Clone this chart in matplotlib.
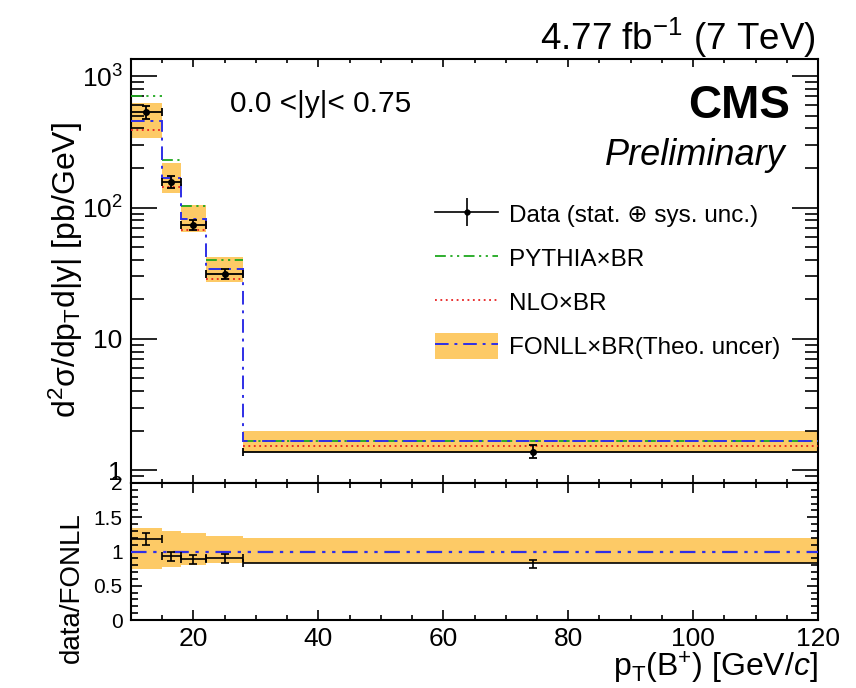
import numpy as np
import matplotlib
matplotlib.use('Agg')
import matplotlib.pyplot as plt
from matplotlib.patches import Patch
from matplotlib.lines import Line2D
from matplotlib.ticker import FixedLocator, MultipleLocator, LogLocator, NullFormatter, FixedFormatter

plt.rcParams['font.family'] = ['Liberation Sans', 'DejaVu Sans']
plt.rcParams['mathtext.fontset'] = 'custom'
plt.rcParams['mathtext.rm'] = 'Liberation Sans'
plt.rcParams['mathtext.it'] = 'Liberation Sans:italic'
plt.rcParams['mathtext.bf'] = 'Liberation Sans:bold'
plt.rcParams['mathtext.sf'] = 'Liberation Sans'

# ---------------- data ----------------
bin_edges = [10, 15, 18, 22, 28, 120]
data_pt = [12.4, 16.4, 20.0, 25.0, 74.3]
data_y = [535, 157, 73, 31.0, 1.38]
data_err_up = [59, 17, 7.5, 3.2, 0.17]
data_err_dn = [67, 16, 5.5, 2.6, 0.15]

pythia_y = [708, 229, 102, 39.7, 1.68]
nlo_y = [388, 144, 68, 28.8, 1.52]
fonll_y = [455, 167, 82, 34.3, 1.67]
fonll_hi = [620, 220, 105, 42.1, 1.99]
fonll_lo = [341, 130, 65, 27.2, 1.38]

ratio_y = [1.18, 0.93, 0.89, 0.90, 0.83]
ratio_err_up = [0.09, 0.06, 0.06, 0.07, 0.05]
ratio_err_dn = [0.09, 0.065, 0.07, 0.07, 0.07]
ratio_band_hi = [1.35, 1.30, 1.27, 1.23, 1.19]
ratio_band_lo = [0.75, 0.78, 0.80, 0.83, 0.83]

top_yticks = [1, 10, 100, 1000]
top_yticklabels = ['1', '10', '$10^{2}$', '$10^{3}$']
ratio_yticks = [0, 0.5, 1, 1.5, 2]
ratio_yticklabels = ['0', '0.5', '1', '1.5', '2']
x_ticks = [20, 40, 60, 80, 100, 120]

legend_labels = ['Data (stat. \u2295 sys. unc.)', 'PYTHIA\u00d7BR', 'NLO\u00d7BR',
                 'FONLL\u00d7BR(Theo. uncer)']

# ---------------- style ----------------
c_band = '#fdca66'
c_blue = '#2f2fe6'
c_green = '#1fa81f'
c_red = '#e82020'
ls_fonll = (0, (7, 3, 1.5, 3))
ls_pythia = (0, (6, 2.5, 1.2, 2.5, 1.2, 2.5))
ls_nlo = (0, (1, 2))
ls_ratio = (0, (7, 3, 1.5, 3, 1.5, 3))

W, H = 856, 688
fig = plt.figure(figsize=(W / 100, H / 100), dpi=100)
L, R = 131, 818
T1, B1 = 59, 483
T2, B2 = 483, 620
ax1 = fig.add_axes([L / W, 1 - B1 / H, (R - L) / W, (B1 - T1) / H])
ax2 = fig.add_axes([L / W, 1 - B2 / H, (R - L) / W, (B2 - T2) / H])

edges = np.array(bin_edges, dtype=float)
lo_e = edges[:-1]
hi_e = edges[1:]
widths = hi_e - lo_e
pt = np.array(data_pt)

# ---------------- top panel ----------------
ax1.bar(lo_e, np.array(fonll_hi) - np.array(fonll_lo), bottom=fonll_lo, width=widths,
        align='edge', color=c_band, linewidth=0, zorder=1)
ax1.hlines(pythia_y, lo_e, hi_e, colors=c_green, linestyles=[ls_pythia], linewidth=1.3, zorder=3)
ax1.hlines(nlo_y, lo_e, hi_e, colors=c_red, linestyles=[ls_nlo], linewidth=1.3, zorder=3)
ax1.stairs(fonll_y, edges, baseline=None, color=c_blue, linestyle=ls_fonll, linewidth=1.4, zorder=4)
ax1.errorbar(pt, data_y, xerr=[pt - lo_e, hi_e - pt], yerr=[data_err_dn, data_err_up],
             fmt='o', ms=4, color='black', ecolor='black', elinewidth=1.3,
             capsize=3, capthick=1.3, zorder=5)

ax1.set_xlim(bin_edges[0], bin_edges[-1])
ax1.set_yscale('log')
ax1.set_ylim(0.8, 1350)
ax1.yaxis.set_major_locator(FixedLocator(top_yticks))
ax1.yaxis.set_major_formatter(FixedFormatter(top_yticklabels))
ax1.yaxis.set_minor_locator(LogLocator(base=10, subs=np.arange(2, 10)))
ax1.yaxis.set_minor_formatter(NullFormatter())
ax1.xaxis.set_major_locator(FixedLocator(x_ticks))
ax1.xaxis.set_minor_locator(MultipleLocator(5))
ax1.tick_params(axis='x', labelbottom=False)
ax1.tick_params(which='both', direction='in', top=True, right=True, width=1.2)
ax1.tick_params(axis='y', which='major', length=18.5, labelsize=19, pad=6)
ax1.tick_params(axis='y', which='minor', length=9.5)
ax1.tick_params(axis='x', which='major', length=6)
ax1.tick_params(axis='x', which='minor', length=3)
for s in ax1.spines.values():
    s.set_linewidth(1.5)

# legend
h_data = (Line2D([], [], color='black', linewidth=1.2),
          Line2D([], [], color='black', marker='|', markersize=20, markeredgewidth=1.2,
                 linestyle='none'),
          Line2D([], [], color='black', marker='o', markersize=3.5, linestyle='none'))
h_py = Line2D([], [], color=c_green, linestyle=ls_pythia, linewidth=1.3)
h_nlo = Line2D([], [], color=c_red, linestyle=ls_nlo, linewidth=1.3)
h_fonll = (Patch(facecolor=c_band, edgecolor='none'),
           Line2D([], [], color=c_blue, linestyle=ls_fonll, linewidth=1.4))
ax1.legend([h_data, h_py, h_nlo, h_fonll], legend_labels,
           loc='upper left', bbox_to_anchor=(435 / W, 1 - 201 / H),
           bbox_transform=fig.transFigure, frameon=False, fontsize=17.5,
           handlelength=2.6, handletextpad=0.45, labelspacing=0.72,
           borderpad=0, borderaxespad=0, handleheight=1.3)

fig.text(230 / W, 1 - 112 / H, '0.0 <|y|< 0.75', fontsize=21.5, ha='left', va='baseline')
fig.text(790 / W, 1 - 118 / H, 'CMS', fontsize=33, fontweight='bold', ha='right', va='baseline')
fig.text(786 / W, 1 - 165 / H, 'Preliminary', fontsize=26, fontstyle='italic',
         ha='right', va='baseline')
fig.text(816 / W, 1 - 50 / H, '4.77 fb$^{-1}$ (7 TeV)', fontsize=26.5, ha='right', va='baseline')

fig.text(66 / W, 1 - 270 / H, 'd$^{2}$\u03c3/dp$_{\\mathregular{T}}$d|y| [pb/GeV]',
         fontsize=23, rotation=90, ha='center', va='center')

# ---------------- ratio panel ----------------
ax2.bar(lo_e, np.array(ratio_band_hi) - np.array(ratio_band_lo), bottom=ratio_band_lo,
        width=widths, align='edge', color=c_band, linewidth=0, zorder=1)
ax2.axhline(1.0, color=c_blue, linestyle=ls_ratio, linewidth=1.6, zorder=3)
ax2.errorbar(pt, ratio_y, xerr=[pt - lo_e, hi_e - pt], yerr=[ratio_err_dn, ratio_err_up],
             fmt='none', color='black', ecolor='black', elinewidth=1.2,
             capsize=3, capthick=1.2, zorder=5)
ax2.set_xlim(bin_edges[0], bin_edges[-1])
ax2.set_ylim(0, 2)
ax2.yaxis.set_major_locator(FixedLocator(ratio_yticks))
ax2.yaxis.set_major_formatter(FixedFormatter(ratio_yticklabels))
ax2.yaxis.set_minor_locator(MultipleLocator(0.1))
ax2.xaxis.set_major_locator(FixedLocator(x_ticks))
ax2.xaxis.set_minor_locator(MultipleLocator(5))
ax2.tick_params(which='both', direction='in', top=True, right=True, width=1.2)
ax2.tick_params(axis='y', which='major', length=8, labelsize=15, pad=6)
ax2.tick_params(axis='y', which='minor', length=5)
ax2.tick_params(axis='x', which='major', length=7.5, labelsize=19, pad=5)
ax2.tick_params(axis='x', which='minor', length=3.5)
for s in ax2.spines.values():
    s.set_linewidth(1.5)

fig.text(72 / W, 1 - 588 / H, 'data/FONLL', fontsize=20, rotation=90, ha='center', va='center')
fig.text(818 / W, 1 - 677 / H, r'p$_{\mathregular{T}}$(B$^{+}$) [GeV/$\mathit{c}$]',
         fontsize=23, ha='right', va='baseline')

fig.savefig('out.png', dpi=100, facecolor='white')
